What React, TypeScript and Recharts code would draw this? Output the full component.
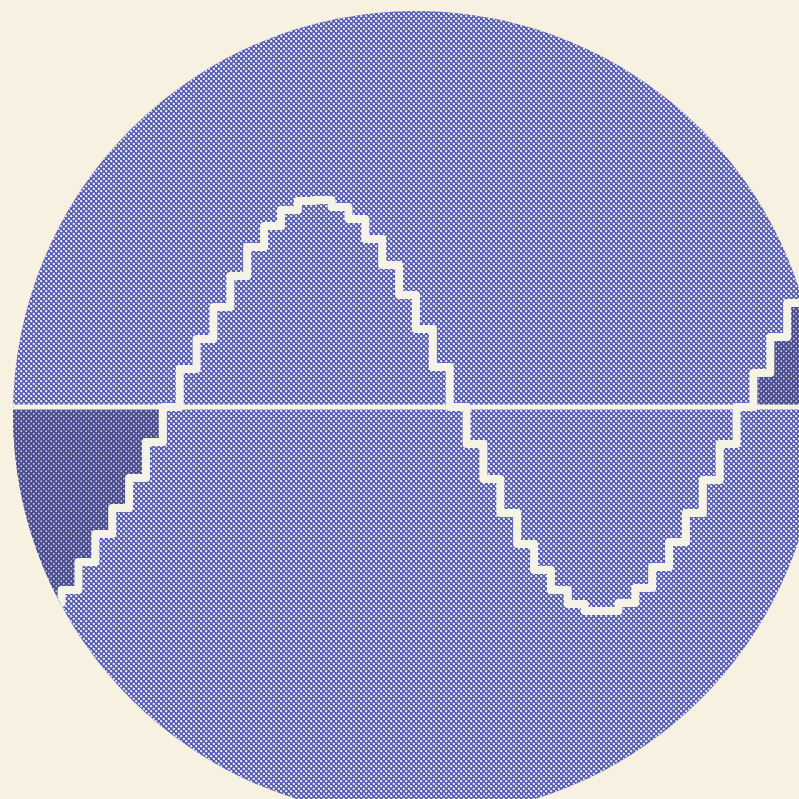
import { ComposedChart, Line, Area, XAxis, YAxis, ReferenceLine } from "recharts";

// sample number of each step of the trace (one step ~ one sampling period)
const sampleIndex = [
  -10, -9, -8, -7, -6, -5, -4, -3, -2, -1, 0, 1, 2, 3, 4, 5, 6, 7, 8, 9, 10, 11, 12, 13, 14, 15, 16, 17,
  18, 19, 20, 21, 22, 23, 24, 25, 26, 27, 28, 29, 30, 31, 32, 33, 34, 35, 36, 37, 38,
];

// held level of each step (screen units, 0 = baseline)
const traceLevel = [
  -200, -206, -204, -196, -183, -155, -127, -101, -71, -35, 0, 38, 68, 100, 131, 160, 181, 197, 206, 207,
  200, 188, 168, 142, 112, 78, 40, 0, -37, -72, -106, -137, -163, -183, -197, -204, -204, -196, -181,
  -160, -135, -106, -73, -37, 0, 34, 70, 104, 136,
];

// samples before the first rising crossing and after the last one are shaded darker
const leadInEnd = 0;
const tailStart = 34;

const xDomain = [-9.65, 37.7];
const yDomain = [-392, 407];

const rows = sampleIndex.map((s, i) => ({
  sample: s,
  level: traceLevel[i],
  leadIn: s <= leadInEnd ? traceLevel[i] : null,
  tail: s >= tailStart ? traceLevel[i] : null,
}));

const trace = "#f5f2e6";

export default function App() {
  return (
    <div
      style={{
        position: "absolute",
        left: 0,
        top: 0,
        width: 799,
        height: 799,
        background: "#f7f1e2",
        overflow: "hidden",
      }}
    >
      <div
        style={{
          position: "absolute",
          left: 0,
          top: 0,
          width: 799,
          height: 799,
          clipPath: "circle(403px at 416px 414px)",
          backgroundColor: "#5358b3",
          backgroundImage:
            "radial-gradient(circle at 1.25px 1.25px, #e2e2ef 0 0.9px, transparent 1.5px), radial-gradient(circle at 3.75px 3.75px, #e2e2ef 0 0.9px, transparent 1.5px)",
          backgroundSize: "5px 5px",
        }}
      >
        <ComposedChart width={799} height={799} data={rows} margin={{ top: 0, right: 0, bottom: 0, left: 0 }}>
          <defs>
            <pattern id="darkScreen" width="5" height="5" patternUnits="userSpaceOnUse">
              <rect width="5" height="5" fill="#4a4c90" />
              <circle cx="1.25" cy="1.25" r="0.9" fill="#c9c9dc" />
              <circle cx="3.75" cy="3.75" r="0.9" fill="#c9c9dc" />
            </pattern>
          </defs>
          <XAxis type="number" dataKey="sample" domain={xDomain} allowDataOverflow hide />
          <YAxis type="number" domain={yDomain} allowDataOverflow hide />
          <Area
            dataKey="leadIn"
            type="stepAfter"
            baseValue={0}
            stroke="none"
            fill="url(#darkScreen)"
            fillOpacity={1}
            isAnimationActive={false}
          />
          <Area
            dataKey="tail"
            type="stepAfter"
            baseValue={0}
            stroke="none"
            fill="url(#darkScreen)"
            fillOpacity={1}
            isAnimationActive={false}
          />
          <ReferenceLine y={0} stroke={trace} strokeWidth={5} />
          <Line
            dataKey="level"
            type="stepAfter"
            stroke={trace}
            strokeWidth={8}
            strokeLinejoin="round"
            dot={false}
            isAnimationActive={false}
          />
        </ComposedChart>
      </div>
    </div>
  );
}
